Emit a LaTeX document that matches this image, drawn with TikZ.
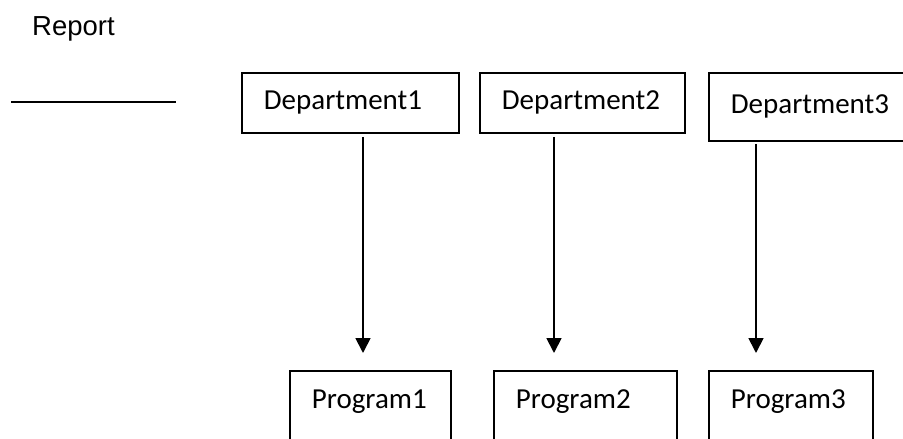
\documentclass[tikz,border=0pt]{standalone}
\usepackage{fontspec}
\setmainfont{Carlito}
\newfontfamily\arialfont{Liberation Sans}
\usetikzlibrary{positioning}
\usetikzlibrary{arrows.meta}
\tikzset{
	box/.style={draw, line width=1.8pt, anchor=north west, align=left, inner xsep=22pt,
		font=\fontsize{29}{34}\selectfont},
	dept/.style={box, minimum height=60pt},
	prog/.style={box, inner ysep=20pt, text height=18pt, text depth=60pt},
	arr/.style={line width=1.8pt, -{Triangle[length=15pt,width=15pt]}}
}

\begin{document}
\begin{tikzpicture}[x=1pt, y=-1pt]
	\useasboundingbox (0,0) rectangle (903,439);
	\clip (0,0) rectangle (903,439);
	% Title
	\node (report) [anchor=base west, inner sep=0pt, font=\arialfont\fontsize{27.5}{33}\selectfont] at (32,35) {Report};
	\coordinate (ls) at (11,102);
	\coordinate (le) at (176,102);
	\draw [line width=1.3pt] (ls) -- (le);

	% departments
	\node (d1) [dept, text width=173pt] at (241,72) {Department1};
	\node (d2) [dept, text width=161pt] at (479,72) {Department2};
	\node (d3) [dept, text width=170pt, minimum height=68pt] at (708,72) {Department3};

	% programs
	\node (p1) [prog, text width=117pt] at (289,370) {Program1};
	\node (p2) [prog, text width=139pt] at (493,370) {Program2};
	\node (p3) [prog, text width=120pt] at (708,370) {Program3};

	\coordinate (a1) at ([xshift=122pt]d1.south west);
	\coordinate (a2) at ([xshift=75pt]d2.south west);
	\coordinate (a3) at ([xshift=48pt]d3.south west);
	\draw [arr] ([yshift=-3pt]a1) -- ([yshift=17pt]a1 |- p1.north);
	\draw [arr] ([yshift=-3pt]a2) -- ([yshift=17pt]a2 |- p2.north);
	\draw [arr] ([yshift=-2pt]a3) -- ([yshift=17pt]a3 |- p3.north);
\end{tikzpicture}
\end{document}
